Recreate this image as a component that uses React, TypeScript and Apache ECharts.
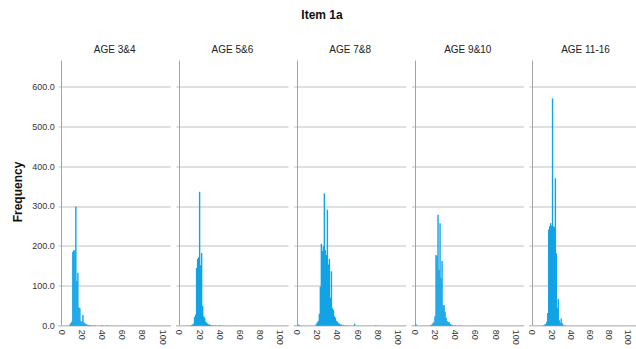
import React, { useEffect, useRef } from "react";
import * as echarts from "echarts";

const TITLE = "Item 1a";
const Y_NAME = "Frequency";
const groups = ["AGE 3&4", "AGE 5&6", "AGE 7&8", "AGE 9&10", "AGE 11-16"];
const xTickValues = [0, 20, 40, 60, 80, 100];

// [score bin, frequency]
const age34 = [
  [8, 3], [9, 6], [10, 10], [11, 186], [12, 190], [13, 190], [14, 300], [15, 113],
  [16, 133], [17, 46], [18, 44], [19, 12], [20, 10], [21, 27], [22, 8], [23, 6],
  [24, 4], [25, 3], [26, 2], [27, 2], [28, 1], [30, 2], [33, 1], [40, 1], [45, 1],
];
const age56 = [
  [12, 2], [13, 3], [14, 5], [15, 22], [16, 28], [17, 145], [18, 168], [19, 172],
  [20, 337], [21, 152], [22, 183], [23, 50], [24, 24], [25, 20], [26, 10], [27, 8],
  [28, 5], [29, 3], [30, 3], [31, 2], [33, 1], [36, 1], [40, 1],
];
const age78 = [
  [1, 3], [2, 2], [19, 4], [20, 8], [21, 12], [22, 30], [23, 98], [24, 206],
  [25, 188], [26, 200], [27, 333], [28, 190], [29, 178], [30, 292], [31, 154],
  [32, 168], [33, 70], [34, 137], [35, 44], [36, 40], [37, 24], [38, 20], [39, 12],
  [40, 10], [41, 6], [42, 5], [43, 3], [44, 3], [46, 2], [48, 1], [50, 1], [57, 5], [78, 1],
];
const age910 = [
  [1, 4], [16, 2], [17, 3], [18, 6], [19, 10], [20, 24], [21, 178], [22, 175],
  [23, 279], [24, 140], [25, 258], [26, 120], [27, 163], [28, 50], [29, 52], [30, 35],
  [31, 20], [32, 12], [33, 8], [34, 10], [35, 4], [36, 3], [37, 2], [40, 1], [45, 1],
];
const age1116 = [
  [12, 2], [13, 3], [14, 5], [15, 10], [16, 32], [17, 242], [18, 250], [19, 258],
  [20, 252], [21, 572], [22, 250], [23, 248], [24, 371], [25, 182], [26, 45], [27, 67],
  [28, 14], [29, 8], [30, 18], [31, 6], [32, 3], [34, 1],
];
const groupData = [age34, age56, age78, age910, age1116];

const BAR_COLOR = "#12a3e6";
const FONT = "'Liberation Sans', Arial, sans-serif";

export default function App() {
  const ref = useRef<HTMLDivElement>(null);
  useEffect(() => {
    const chart = echarts.init(ref.current!, null, { renderer: "svg" });
    const top = 61;
    const bottom = 23.3;
    const left0 = 58.7;
    const step = 117.7;
    const w = 112;

    const grid = groups.map((_, i) => ({ left: left0 + i * step, top, width: w, bottom }));
    const xAxis = groups.map((_, i) => ({
      type: "value",
      gridIndex: i,
      min: -3,
      max: 108,
      splitLine: { show: false },
      axisTick: { show: false },
      axisLine: { show: true, lineStyle: { color: "#c4c4c4", width: 1 } },
      axisLabel: {
        customValues: xTickValues,
        rotate: -90,
        fontSize: 9,
        color: "#333",
        fontFamily: FONT,
        margin: 4,
      },
    }));
    const yAxis = groups.map((_, i) => ({
      type: "value",
      gridIndex: i,
      min: 0,
      max: 666,
      interval: 100,
      axisTick: { show: false },
      axisLine: { show: true, lineStyle: { color: "#a3a3a3", width: 1 } },
      splitLine: { show: true, showMaxLine: false, lineStyle: { color: "#d6d6d6", width: 1.5 } },
      axisLabel: {
        show: i === 0,
        showMaxLabel: false,
        fontSize: 9,
        color: "#333",
        fontFamily: FONT,
        margin: 4,
        formatter: (v: number) => v.toFixed(1),
      },
    }));
    const series = groupData.map((d, i) => ({
      type: "custom",
      xAxisIndex: i,
      yAxisIndex: i,
      data: d,
      encode: { x: 0, y: 1 },
      renderItem: (_params: any, api: any) => {
        const x = api.value(0);
        const y = api.value(1);
        const p0 = api.coord([x - 0.5, y]);
        const p1 = api.coord([x + 0.5, 0]);
        return {
          type: "rect",
          shape: {
            x: p0[0] - 0.2,
            y: p0[1],
            width: p1[0] - p0[0] + 0.4,
            height: p1[1] - p0[1],
          },
          style: { fill: BAR_COLOR },
        };
      },
    }));

    const graphic: any[] = [
      {
        type: "text",
        x: 322,
        y: 15,
        style: {
          text: TITLE,
          fontSize: 12,
          fontWeight: "bold",
          fontFamily: FONT,
          fill: "#111",
          textAlign: "center",
          textVerticalAlign: "middle",
        },
      },
      {
        type: "text",
        x: 18,
        y: 192,
        rotation: Math.PI / 2,
        style: {
          text: Y_NAME,
          fontSize: 12,
          fontWeight: "bold",
          fontFamily: FONT,
          fill: "#111",
          textAlign: "center",
          textVerticalAlign: "middle",
        },
      },
      ...groups.map((g, i) => ({
        type: "text",
        x: left0 + i * step + w / 2,
        y: 49,
        style: {
          text: g,
          fontSize: 10,
          fontFamily: FONT,
          fill: "#222",
          textAlign: "center",
          textVerticalAlign: "middle",
        },
      })),
    ];

    chart.setOption({
      animation: false,
      backgroundColor: "#ffffff",
      grid,
      xAxis,
      yAxis,
      series,
      graphic,
    });
    return () => chart.dispose();
  }, []);
  return (
    <div
      ref={ref}
      style={{ position: "absolute", left: 0, top: 0, width: 636, height: 349 }}
    />
  );
}
